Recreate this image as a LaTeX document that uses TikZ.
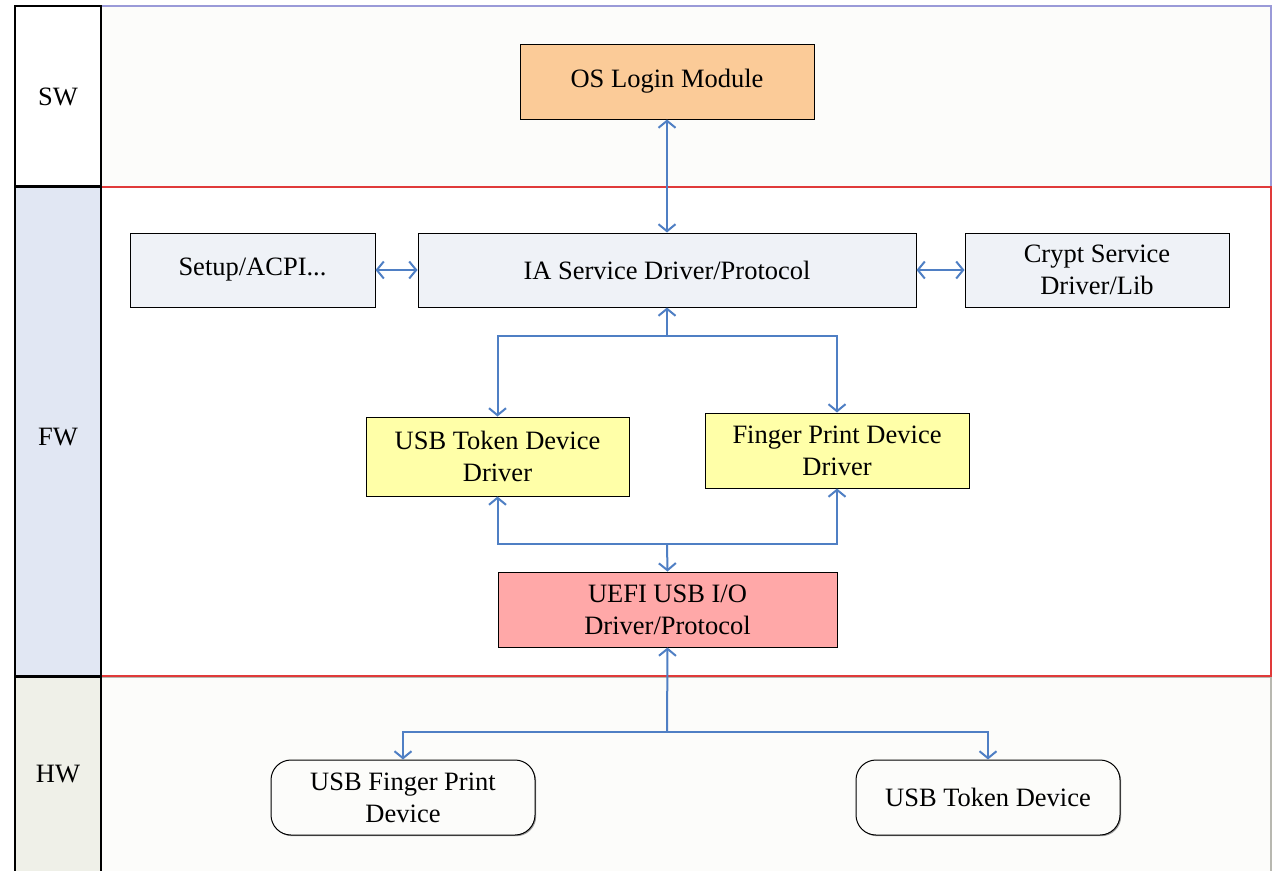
\documentclass[tikz,border=0pt]{standalone}
\usepackage{fontspec}
\setmainfont{Liberation Serif}
\usetikzlibrary{arrows.meta,shadows}
\definecolor{lanefill}{HTML}{FCFCFA}
\definecolor{fwlab}{HTML}{E1E7F3}
\definecolor{hwlab}{HTML}{EFF0E8}
\definecolor{swline}{HTML}{9A9AD8}
\definecolor{fwline}{HTML}{E03A3A}
\definecolor{hwline}{HTML}{B8B8B0}
\definecolor{boxblue}{HTML}{EFF2F7}
\definecolor{boxorange}{HTML}{FBCB98}
\definecolor{boxyellow}{HTML}{FFFFA8}
\definecolor{boxred}{HTML}{FFA8A8}
\definecolor{arrblue}{HTML}{4F7FC4}
\tikzset{
  every node/.style={font=\fontsize{26.5}{32}\selectfont, text=black},
  box/.style={draw=black, line width=1pt, align=center, inner sep=2pt,
    drop shadow={shadow xshift=1.2pt, shadow yshift=-1.2pt, fill=gray!80, opacity=1}},
  dev/.style={box, rounded corners=20pt, fill=lanefill},
  arr/.style={draw=arrblue, line width=2pt, {Straight Barb[length=7pt,width=17pt]}-{Straight Barb[length=7pt,width=17pt]}},
  arrto/.style={draw=arrblue, line width=2pt, -{Straight Barb[length=7pt,width=17pt]}},
  lanelab/.style={draw=black, line width=1.5pt, minimum width=86pt}
}
\begin{document}
\begin{tikzpicture}[x=1pt,y=-1pt]
\useasboundingbox (0,0) rectangle (1274,870);
\fill[white] (0,0) rectangle (1274,870);
% lanes
\fill[lanefill] (101,6) rectangle (1271,186);
\draw[swline, line width=1.4pt] (101,6) -- (1271,6) -- (1271,186);
\fill[white] (101,187) rectangle (1271,676);
\fill[lanefill] (101,677) rectangle (1271,872);
\draw[hwline, line width=1.4pt] (101,677.5) -- (1271,677.5) -- (1271,872);
\draw[fwline, line width=1.4pt] (101,187) -- (1271,187) -- (1271,676) -- (101,676);
% left labels
\draw[line width=1.5pt, fill=white] (15,6) rectangle (101,186);
\draw[line width=1.5pt, fill=fwlab] (15,187) rectangle (101,676);
\draw[line width=1.5pt, fill=hwlab] (15,677) rectangle (101,875);
\node (sw) at (58,97) {SW};
\node (fw) at (58,437) {FW};
\node (hw) at (58,774) {HW};
% boxes
\node[box, fill=boxorange, minimum width=294pt, minimum height=75pt] (os) at (667,81.5) {OS Login Module};
\node[box, fill=boxblue, minimum width=245pt, minimum height=74pt] (setup) at (252.5,270) {Setup/ACPI...};
\node[box, fill=boxblue, minimum width=498pt, minimum height=74pt] (ia) at (667,270) {IA Service Driver/Protocol};
\node[box, fill=boxblue, minimum width=264pt, minimum height=74pt] (crypt) at (1097,270) {Crypt Service\\Driver/Lib};
\node[box, fill=boxyellow, minimum width=263pt, minimum height=79pt] (tok) at (497.5,456.5) {USB Token Device\\Driver};
\node[box, fill=boxyellow, minimum width=264pt, minimum height=75pt] (fp) at (837,450.5) {Finger Print Device\\Driver};
\node[box, fill=boxred, minimum width=339pt, minimum height=75pt] (uefi) at (667.5,609.5) {UEFI USB I/O\\Driver/Protocol};
\node[dev, minimum width=264pt, minimum height=75pt] (fpdev) at (403,797.5) {USB Finger Print\\Device};
\node[dev, minimum width=264pt, minimum height=75pt] (tokdev) at (988,797.5) {USB Token Device};
% connectors
\coordinate (j1) at (667,336);
\coordinate (j2) at (667,544);
\coordinate (j3) at (667,732);
\draw[arr] (os.south) -- (ia.north);
\draw[arr] (setup.east) -- (ia.west);
\draw[arr] (ia.east) -- (crypt.west);
\draw[arrto] (j1) -- (ia.south);
\draw[arr] (tok.north) |- (j1) -| (fp.north);
\draw[arr] (tok.south) |- (j2) -| (fp.south);
\draw[arrto] (j2) -- (uefi.north);
\draw[arrto] (j3) -- (uefi.south);
\draw[arr] (fpdev.north) |- (j3) -| (tokdev.north);
\end{tikzpicture}
\end{document}
